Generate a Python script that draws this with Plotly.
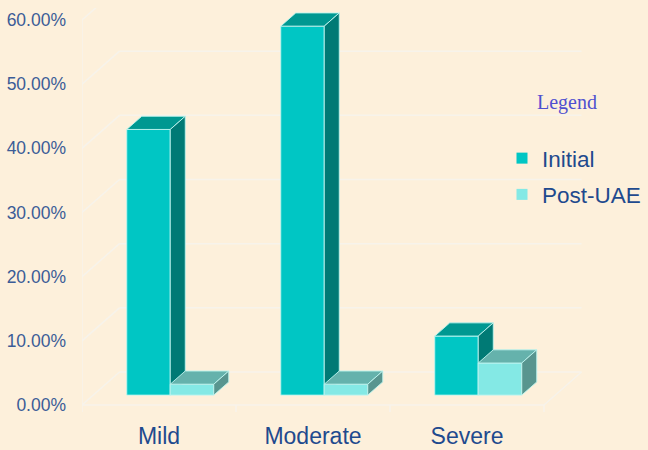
import plotly.graph_objects as go

# ---- data ----
categories = ["Mild", "Moderate", "Severe"]
series_names = ["Initial", "Post-UAE"]
initial = [41.4, 57.5, 9.2]
post_uae = [1.7, 1.7, 5.0]
tick_values = [0, 10, 20, 30, 40, 50, 60]
tick_labels = [f"{t:.2f}%" for t in tick_values]

# ---- style / 3D projection constants (axis units) ----
DX = 37.5 / 154.0      # depth offset in category units
DY = 33.0 / 6.417      # depth offset in value units
GAP = 0.2175           # gap on each side of the bar pair
BW = 0.2825            # width of one bar
F0, F1 = 0.3, 0.7      # bar depth span (fraction of floor depth)
YMIN, YMAX = -1.09, 61.87

BG = "#FDF0DB"
GRID = "#F7F3EB"
face_colors = {
    "Initial": ("#00C6C4", "#009891", "#007A75"),
    "Post-UAE": ("#84E9E5", "#65B2AC", "#58958F"),
}
EDGE = "rgba(190,245,240,0.9)"


def proj(x, v, f):
    return x + f * DX, v + f * DY


fig = go.Figure()

# ---- walls / floor / gridlines ----
gx, gy = [], []
ncat = len(categories)
for t in tick_values:
    a = proj(0, t, 0); b = proj(0, t, 1)
    gx += [a[0], b[0], None]; gy += [a[1], b[1], None]
    c = proj(ncat, t, 1)
    gx += [b[0], c[0], None]; gy += [b[1], c[1], None]
gx += [0, 0, None]; gy += [YMIN, tick_values[-1], None]
gx += [0, ncat, None]; gy += [0, 0, None]
a = proj(ncat, 0, 0); b = proj(ncat, 0, 1)
gx += [a[0], b[0], None]; gy += [a[1], b[1], None]
for i in range(1, ncat + 1):
    gx += [i, i, None]; gy += [0, YMIN, None]
fig.add_trace(go.Scatter(x=gx, y=gy, mode="lines", line=dict(color=GRID, width=1.5),
                         hoverinfo="skip", showlegend=False))

# ---- 3D bars ----
for i, cat in enumerate(categories):
    for s, (name, vals) in enumerate(zip(series_names, [initial, post_uae])):
        v = vals[i]
        x0 = i + GAP + s * BW
        x1 = x0 + BW
        front_c, top_c, side_c = face_colors[name]
        pts = [proj(x0, 0, F0), proj(x1, 0, F0), proj(x1, v, F0), proj(x0, v, F0), proj(x0, 0, F0)]
        fig.add_trace(go.Scatter(x=[p[0] for p in pts], y=[p[1] for p in pts], fill="toself",
                                 fillcolor=front_c, mode="lines", line=dict(color=EDGE, width=1),
                                 name=name, hovertemplate=f"{cat}<br>{name}: {v:.1f}%<extra></extra>",
                                 showlegend=False))
        pts = [proj(x0, v, F0), proj(x1, v, F0), proj(x1, v, F1), proj(x0, v, F1), proj(x0, v, F0)]
        fig.add_trace(go.Scatter(x=[p[0] for p in pts], y=[p[1] for p in pts], fill="toself",
                                 fillcolor=top_c, mode="lines", line=dict(color=EDGE, width=1),
                                 hoverinfo="skip", showlegend=False))
        pts = [proj(x1, 0, F0), proj(x1, 0, F1), proj(x1, v, F1), proj(x1, v, F0), proj(x1, 0, F0)]
        fig.add_trace(go.Scatter(x=[p[0] for p in pts], y=[p[1] for p in pts], fill="toself",
                                 fillcolor=side_c, mode="lines", line=dict(color=EDGE, width=1),
                                 hoverinfo="skip", showlegend=False))

# ---- legend entries ----
for name in series_names:
    fig.add_trace(go.Scatter(x=[None], y=[None], mode="markers", name=name,
                             legendgroup=name,
                             marker=dict(symbol="square", size=11, color=face_colors[name][0])))

fig.update_layout(
    width=648, height=450,
    margin=dict(l=82, r=0, t=8, b=38),
    paper_bgcolor=BG, plot_bgcolor=BG,
    font=dict(family="Liberation Sans, Arial, sans-serif"),
    xaxis=dict(range=[0, 566 / 154.0], tickvals=[i + 0.5 for i in range(ncat)],
               ticktext=categories, showgrid=False, zeroline=False, showline=False,
               ticks="", tickfont=dict(size=23, color="#1F4A8E"), ticklabelstandoff=8,
               fixedrange=True),
    yaxis=dict(range=[YMIN, YMAX], tickvals=tick_values, ticktext=tick_labels,
               showgrid=False, zeroline=False, showline=False, ticks="",
               tickfont=dict(size=17.5, color="#3B5C97"), ticklabelstandoff=15,
               fixedrange=True),
    legend=dict(x=(502 - 82) / 566.0, xanchor="left", y=(450 - 38 - 137) / 404.0, yanchor="top",
                bgcolor="rgba(0,0,0,0)", font=dict(size=22.5, color="#1F4A8E"),
                traceorder="grouped", tracegroupgap=4, itemwidth=30),
    annotations=[dict(text="Legend", xref="paper", yref="paper",
                      x=(567 - 82) / 566.0, y=(450 - 38 - 102) / 404.0,
                      xanchor="center", yanchor="middle", showarrow=False,
                      font=dict(family="Liberation Serif, Times New Roman, serif", size=20,
                                color="#5050D0"))],
)

fig.write_html("out.html")
